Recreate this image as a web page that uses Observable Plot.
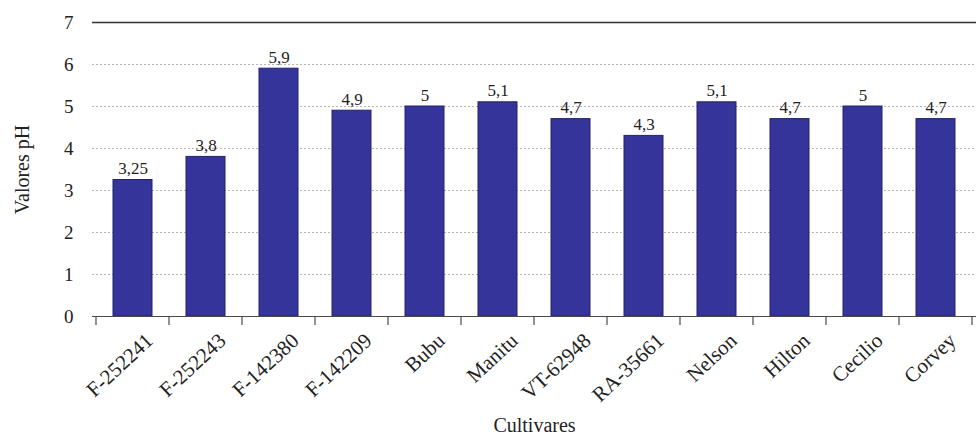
<!DOCTYPE html>
<html>
<head>
<meta charset="utf-8">
<script src="https://cdn.jsdelivr.net/npm/d3@7"></script>
<script src="https://cdn.jsdelivr.net/npm/@observablehq/plot@0.6"></script>
<style>
  body { margin: 0; background: #fff; }
  #chart svg { display: block; }
</style>
</head>
<body>
<div id="chart"></div>
<script>
// pH values per cultivar
const cultivares = ["F-252241", "F-252243", "F-142380", "F-142209", "Bubu", "Manitu", "VT-62948", "RA-35661", "Nelson", "Hilton", "Cecilio", "Corvey"];
const valoresPH = [3.25, 3.8, 5.9, 4.9, 5, 5.1, 4.7, 4.3, 5.1, 4.7, 5, 4.7];
const yTicks = [0, 1, 2, 3, 4, 5, 6, 7];
const gridValues = [1, 2, 3, 4, 5, 6];
const topValue = [7];
const xTitle = ["Cultivares"];
const yTitle = ["Valores pH"];

const data = cultivares.map((c, i) => ({cultivar: c, ph: valoresPH[i]}));
const fmt = v => String(v).replace(".", ",");
const serif = "Liberation Serif, Times New Roman, serif";

// Tick marks on the category boundaries below the x axis line
function boundaryTicks(index, scales) {
  const x = scales.x;
  const bw = x.bandwidth();
  const step = x(cultivares[1]) - x(cultivares[0]);
  const gap = (step - bw) / 2;
  const edges = cultivares.map(c => x(c) - gap);
  edges.push(x(cultivares[cultivares.length - 1]) + bw + gap);
  const y0 = scales.y(0);
  const g = d3.create("svg:g");
  g.selectAll("line").data(edges).join("line")
    .attr("x1", d => d).attr("x2", d => d)
    .attr("y1", y0).attr("y2", y0 + 9)
    .attr("stroke", "#4a4a4a").attr("stroke-width", 1.2);
  return g.node();
}

const chart = Plot.plot({
  width: 976,
  height: 436,
  marginLeft: 92,
  marginRight: 0,
  marginTop: 22,
  marginBottom: 120,
  style: {fontFamily: serif, color: "#222", background: "#fff"},
  x: {domain: cultivares, paddingInner: 0.46, paddingOuter: 0.23, axis: null},
  y: {domain: [0, 7]},
  marks: [
    Plot.ruleY(gridValues, {stroke: "#b4b4b4", strokeDasharray: "2,2", strokeWidth: 1}),
    Plot.barY(data, {x: "cultivar", y: "ph", fill: "#34349a", stroke: "#23236a", strokeWidth: 1}),
    Plot.ruleY(topValue, {stroke: "#2c362c", strokeWidth: 1.6}),
    Plot.ruleY([0], {stroke: "#4a4a4a", strokeWidth: 1.2}),
    boundaryTicks,
    Plot.text(data, {x: "cultivar", y: "ph", text: d => fmt(d.ph), lineAnchor: "bottom", dy: -6, fontSize: 17, fontFamily: serif, fill: "#222"}),
    Plot.text(cultivares, {x: d => d, text: d => d, frameAnchor: "bottom", rotate: -43, textAnchor: "end", lineAnchor: "top", dx: 11, dy: 15, fontSize: 21, fontFamily: serif, fill: "#222"}),
    Plot.axisY(yTicks, {tickSize: 0, tickPadding: 19, fontSize: 19, fontFamily: serif, label: null}),
    Plot.text(yTitle, {frameAnchor: "left", rotate: -90, textAnchor: "middle", lineAnchor: "middle", dx: -70, fontSize: 20, fontFamily: serif, fill: "#222"}),
    Plot.text(xTitle, {frameAnchor: "bottom", textAnchor: "middle", dy: 115, fontSize: 20, fontFamily: serif, fill: "#222"})
  ]
});

document.getElementById("chart").append(chart);
</script>
</body>
</html>
